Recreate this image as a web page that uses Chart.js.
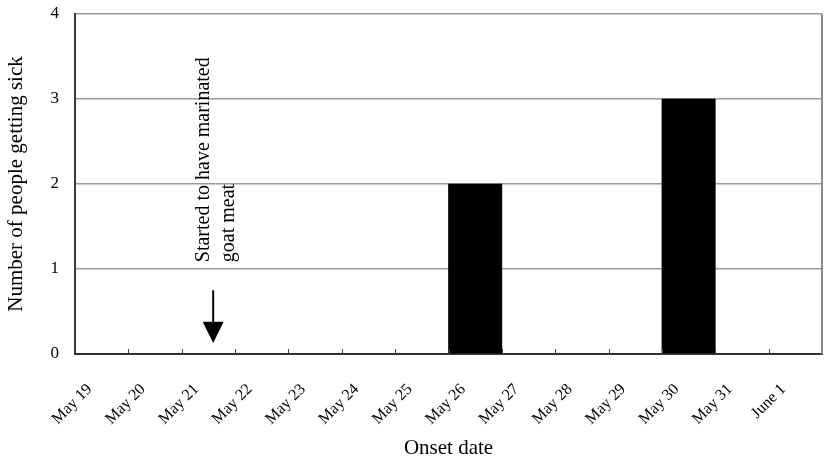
<!DOCTYPE html>
<html lang="en">
<head>
  <meta charset="UTF-8">
  <title>Number of people getting sick by onset date</title>
  <script src="https://cdn.jsdelivr.net/npm/chart.js"></script>
  <style>
    body {
      margin: 0;
      background: #fff;
    }
    #wrap {
      width: 825px;
      height: 465px;
    }
  </style>
</head>
<body>
  <div id="wrap"><canvas id="onset-chart" width="825" height="465"></canvas></div>

  <script>
    // data
    const onsetDates = ["May 19", "May 20", "May 21", "May 22", "May 23", "May 24", "May 25",
                        "May 26", "May 27", "May 28", "May 29", "May 30", "May 31", "June 1"];
    const sickCounts = [0, 0, 0, 0, 0, 0, 0, 2, 0, 0, 0, 3, 0, 0];
    const yTickValues = [0, 1, 2, 3, 4];

    // annotation: text and arrow, in data units (category index / count)
    const noteLines = ["Started to have marinated", "goat meat"];
    const noteTextX = [2.02, 2.48];   // baseline of each line
    const noteTextY = 1.08;           // where the text starts
    const arrowX = 2.09;
    const arrowTop = 0.75, arrowHead = 0.38, arrowTip = 0.13;

    const serif = "'Liberation Serif', 'Times New Roman', serif";

    // frame, inner tick marks, arrow and note
    const decorations = {
      id: "decorations",
      afterDatasetsDraw(chart) {
        const ctx = chart.ctx;
        const area = chart.chartArea;
        const xs = chart.scales.x;
        const ys = chart.scales.y;
        ctx.save();

        // right border
        ctx.strokeStyle = "#8c8c8c";
        ctx.lineWidth = 2;
        ctx.beginPath();
        ctx.moveTo(area.right, area.top);
        ctx.lineTo(area.right, area.bottom);
        ctx.stroke();

        // small tick marks between categories, pointing up
        ctx.strokeStyle = "#444";
        ctx.lineWidth = 1;
        for (let i = 1; i < onsetDates.length; i++) {
          const px = Math.round(xs.getPixelForValue(i - 0.5)) + 0.5;
          ctx.beginPath();
          ctx.moveTo(px, area.bottom);
          ctx.lineTo(px, area.bottom - 5);
          ctx.stroke();
        }

        // arrow
        const ax = xs.getPixelForValue(arrowX);
        const yTop = ys.getPixelForValue(arrowTop);
        const yHead = ys.getPixelForValue(arrowHead);
        const yTip = ys.getPixelForValue(arrowTip);
        ctx.strokeStyle = "#000";
        ctx.lineWidth = 2;
        ctx.beginPath();
        ctx.moveTo(ax, yTop);
        ctx.lineTo(ax, yHead + 1);
        ctx.stroke();
        ctx.fillStyle = "#000";
        ctx.beginPath();
        ctx.moveTo(ax - 10.5, yHead);
        ctx.lineTo(ax + 10.5, yHead);
        ctx.lineTo(ax, yTip);
        ctx.closePath();
        ctx.fill();

        // rotated note
        ctx.font = "20px " + serif;
        ctx.textAlign = "left";
        ctx.textBaseline = "alphabetic";
        noteLines.forEach((line, i) => {
          ctx.save();
          ctx.translate(xs.getPixelForValue(noteTextX[i]), ys.getPixelForValue(noteTextY));
          ctx.rotate(-Math.PI / 2);
          ctx.fillText(line, 0, 0);
          ctx.restore();
        });

        ctx.restore();
      }
    };

    new Chart(document.getElementById("onset-chart"), {
      type: "bar",
      data: {
        labels: onsetDates,
        datasets: [
          {
            label: "Number of people getting sick",
            data: sickCounts,
            backgroundColor: "#000",
            borderWidth: 0,
            barPercentage: 1,
            categoryPercentage: 1,
          },
        ],
      },
      options: {
        responsive: false,
        animation: false,
        devicePixelRatio: 1,
        layout: { padding: { top: 14, right: 3, left: 0, bottom: 0 } },
        plugins: {
          legend: { display: false },
          tooltip: { enabled: false },
        },
        scales: {
          x: {
            offset: true,
            grid: { display: false, drawTicks: false },
            border: { display: true, color: "#3a3a3a", width: 2 },
            ticks: {
              autoSkip: false,
              minRotation: 45,
              maxRotation: 45,
              labelOffset: -12,
              padding: 26,
              color: "#000",
              font: { family: serif, size: 16 },
            },
            title: {
              display: true,
              text: "Onset date",
              color: "#000",
              font: { family: serif, size: 21 },
              padding: { top: 4, bottom: 4 },
            },
            afterFit(scale) {
              scale.height = 111;
              scale.paddingLeft = 0;
              scale.paddingRight = 0;
            },
          },
          y: {
            min: 0,
            max: 4,
            afterBuildTicks(scale) {
              scale.ticks = yTickValues.map((v) => ({ value: v }));
            },
            grid: {
              drawTicks: false,
              lineWidth: 1.5,
              color: (c) => (c.tick && c.tick.value === 0 ? "rgba(0,0,0,0)" : "#9a9a9a"),
            },
            border: { display: true, color: "#3a3a3a", width: 2 },
            ticks: {
              padding: 16,
              color: "#000",
              font: { family: serif, size: 17 },
            },
            title: {
              display: true,
              text: "Number of people getting sick",
              color: "#000",
              font: { family: serif, size: 21 },
              padding: { top: 4, bottom: 4 },
            },
            afterFit(scale) {
              scale.width = 75;
              scale.paddingTop = 0;
              scale.paddingBottom = 0;
            },
          },
        },
      },
      plugins: [decorations],
    });
  </script>
</body>
</html>
